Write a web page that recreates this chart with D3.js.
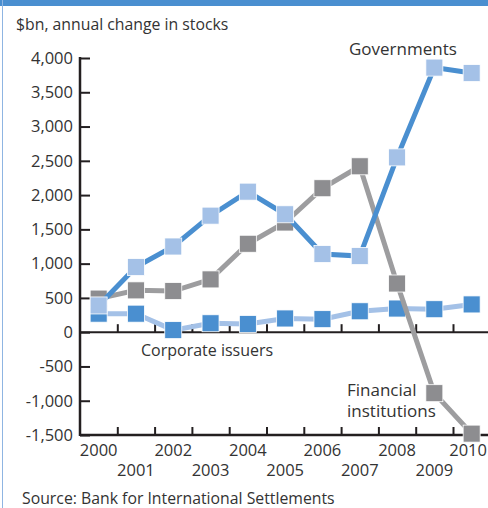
<!DOCTYPE html>
<html>
<head>
<meta charset="utf-8">
<script src="https://cdn.jsdelivr.net/npm/d3@7"></script>
<style>
  body { margin: 0; background: #fff; }
  svg { display: block; font-family: "Open Sans", sans-serif; }
  .tick text { fill: #333; }
</style>
</head>
<body>
<script>
const years = [2000, 2001, 2002, 2003, 2004, 2005, 2006, 2007, 2008, 2009, 2010];
const governments = [390, 950, 1250, 1700, 2050, 1720, 1140, 1110, 2550, 3860, 3780];
const financial = [490, 610, 600, 770, 1290, 1600, 2100, 2420, 710, -890, -1480];
const corporate = [270, 270, 30, 130, 120, 200, 190, 305, 345, 335, 405];
const yTicks = [-1500, -1000, -500, 0, 500, 1000, 1500, 2000, 2500, 3000, 3500, 4000];

const darkBlue = "#4a8fd0";
const lightBlue = "#a4c1e7";
const greyLine = "#9d9d9f";
const greyMark = "#8d8d90";

let width = 488;
let height = 508;

let svg = d3
  .select("body")
  .append("svg")
  .attr("width", width)
  .attr("height", height);

// frame: blue band on top, thin line on the left
svg.append("rect").attr("x", 0).attr("y", 0).attr("width", width).attr("height", 6).attr("fill", darkBlue);
svg.append("rect").attr("x", 2).attr("y", 0).attr("width", 1).attr("height", height).attr("fill", "#8fb5e2");

let x = d3.scaleLinear().domain([2000, 2011]).range([80, 490.3]);
let y = d3.scaleLinear().domain([-1500, 4000]).range([435, 58]);

const fmt = d3.formatLocale({ decimal: ".", thousands: ",", grouping: [3], currency: ["$", ""], minus: "-" }).format(",");

// y axis, ticks pointing into the plot
let yAxis = svg
  .append("g")
  .attr("transform", "translate(80,0)")
  .call(d3.axisLeft(y).tickValues(yTicks).tickSize(-10).tickPadding(7).tickFormat(fmt));
yAxis.select(".domain").remove();
yAxis.selectAll(".tick line").attr("stroke", "#231f20").attr("stroke-width", 2);
yAxis.selectAll(".tick text").attr("font-size", 16.5).attr("font-family", "Open Sans");
yAxis
  .append("line")
  .attr("x1", 0).attr("x2", 0)
  .attr("y1", y(4000) - 1).attr("y2", y(-1500) + 1)
  .attr("stroke", "#231f20").attr("stroke-width", 2.5);

// zero line and bottom axis, ticks at the year boundaries
const bounds = d3.range(2001, 2012);
[0, -1500].forEach((v) => {
  let g = svg
    .append("g")
    .attr("transform", "translate(0," + y(v) + ")")
    .call(d3.axisBottom(x).tickValues(bounds).tickSize(-8).tickFormat(""));
  g.select(".domain").remove();
  g.selectAll(".tick line").attr("stroke", "#231f20").attr("stroke-width", 2);
  g.append("line")
    .attr("x1", 80).attr("x2", width)
    .attr("stroke", "#231f20").attr("stroke-width", v === 0 ? 2 : 2.5);
});

// year labels, alternating rows (the last one is kept inside the frame)
svg
  .append("g")
  .selectAll("text")
  .data(years)
  .enter()
  .append("text")
  .attr("x", (d) => x(d + 0.5))
  .attr("y", (d) => (d % 2 === 0 ? 456 : 476))
  .attr("text-anchor", "middle")
  .attr("font-size", 16.5)
  .attr("fill", "#333")
  .text((d) => d)
  .each(function () {
    const w = this.getComputedTextLength();
    const cx = +this.getAttribute("x");
    if (cx + w / 2 > width - 1) this.setAttribute("x", width - 1 - w / 2);
  });

let line = d3
  .line()
  .x((d, i) => x(years[i] + 0.5))
  .y((d) => y(d));

function drawSeries(values, lineColor, lineWidth, markColor) {
  svg.append("path")
    .datum(values)
    .attr("d", line)
    .attr("fill", "none")
    .attr("stroke", lineColor)
    .attr("stroke-width", lineWidth);
  svg.append("g")
    .selectAll("rect")
    .data(values)
    .enter()
    .append("rect")
    .attr("x", (d, i) => x(years[i] + 0.5) - 8.5)
    .attr("y", (d) => y(d) - 8.5)
    .attr("width", 17)
    .attr("height", 17)
    .attr("fill", markColor)
    .attr("stroke", "#fff")
    .attr("stroke-width", 0.8);
}

drawSeries(corporate, lightBlue, 5, darkBlue);
drawSeries(financial, greyLine, 5, greyMark);
drawSeries(governments, darkBlue, 5, lightBlue);

// titles and series labels
const label = (t, lx, ly, size) =>
  svg.append("text").attr("x", lx).attr("y", ly).attr("font-size", size).attr("fill", "#333").text(t);

label("$bn, annual change in stocks", 16, 30, 15.8);
label("Governments", 349, 55, 17);
label("Corporate issuers", 141, 356, 16);
label("Financial", 347, 396, 17);
label("institutions", 347, 417, 17);
label("Source: Bank for International Settlements", 22, 504, 15.8);
</script>
</body>
</html>
